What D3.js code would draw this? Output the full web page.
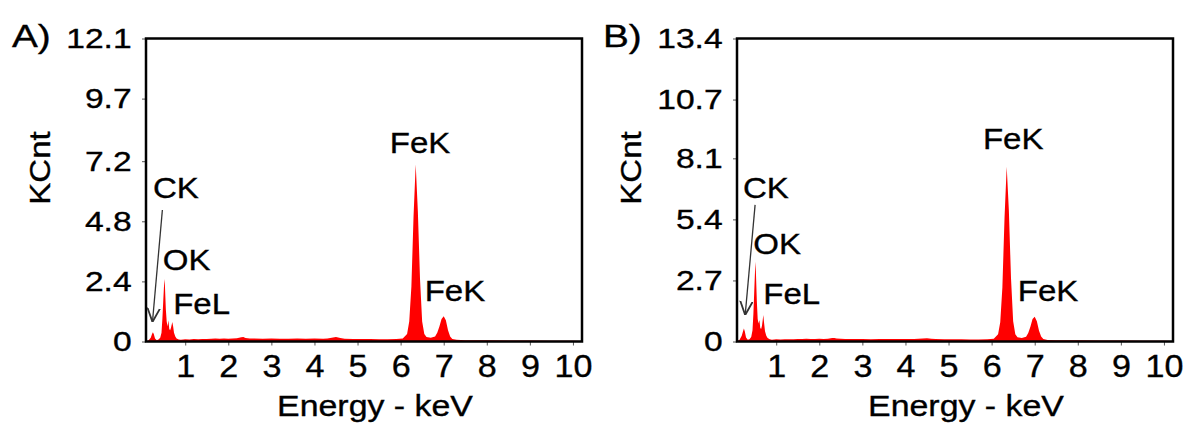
<!DOCTYPE html>
<html>
<head>
<meta charset="utf-8">
<script src="https://cdn.jsdelivr.net/npm/d3@7"></script>
<style>
  body { margin: 0; background: #fff; }
  text { font-family: "Liberation Sans", Arial, sans-serif; fill: #000; stroke: #000; stroke-width: 0.35px; }
</style>
</head>
<body>
<svg id="chart" width="1184" height="426"></svg>
<script>
// spectrum, energy in keV, counts in KCnt
const energy = [0.09, 0.15, 0.20, 0.23, 0.25, 0.27, 0.30, 0.34, 0.38, 0.42, 0.45, 0.47, 0.49, 0.51, 0.52, 0.53,
  0.55, 0.57, 0.59, 0.61, 0.63, 0.65, 0.67, 0.69, 0.70, 0.72, 0.74, 0.77, 0.80, 0.85, 0.90, 1.00, 1.10, 1.20,
  1.30, 1.40, 1.50, 1.60, 1.70, 1.80, 1.90, 2.00, 2.10, 2.20, 2.30, 2.35, 2.40, 2.50, 2.60, 2.80, 3.00, 3.20,
  3.40, 3.60, 3.80, 4.00, 4.20, 4.30, 4.40, 4.50, 4.60, 4.70, 4.90, 5.10, 5.30, 5.50, 5.70, 5.90, 6.05, 6.15,
  6.20, 6.25, 6.30, 6.35, 6.40, 6.45, 6.50, 6.55, 6.60, 6.70, 6.80, 6.85, 6.90, 6.95, 7.00, 7.05, 7.10, 7.15,
  7.20, 7.30, 7.50, 8.00, 8.50, 9.00, 9.50, 10.00, 10.21];
const countsA = [0, 0.05, 0.15, 0.30, 0.37, 0.30, 0.12, 0.05, 0.08, 0.15, 0.35, 0.90, 1.60, 2.30, 2.50, 2.20,
  1.30, 0.80, 0.60, 0.85, 0.50, 0.45, 0.55, 0.70, 0.78, 0.60, 0.35, 0.20, 0.12, 0.08, 0.07, 0.09, 0.08, 0.10,
  0.09, 0.10, 0.10, 0.11, 0.12, 0.11, 0.12, 0.11, 0.12, 0.13, 0.17, 0.18, 0.14, 0.12, 0.12, 0.11, 0.12, 0.11,
  0.11, 0.12, 0.11, 0.12, 0.11, 0.12, 0.15, 0.18, 0.14, 0.11, 0.10, 0.10, 0.10, 0.09, 0.09, 0.10, 0.12, 0.30,
  0.80, 2.20, 5.00, 7.07, 5.20, 2.50, 0.80, 0.30, 0.18, 0.15, 0.20, 0.35, 0.60, 0.90, 1.01, 0.85, 0.45, 0.20,
  0.10, 0.07, 0.05, 0.05, 0.04, 0.04, 0.03, 0.03, 0.02];
const countsB = [0, 0.08, 0.25, 0.45, 0.58, 0.45, 0.18, 0.08, 0.10, 0.20, 0.50, 1.20, 2.20, 3.20, 3.53, 3.00,
  1.80, 1.00, 0.80, 0.95, 0.60, 0.55, 0.70, 1.00, 1.17, 0.80, 0.45, 0.25, 0.15, 0.10, 0.08, 0.10, 0.09, 0.10,
  0.10, 0.10, 0.11, 0.11, 0.12, 0.11, 0.11, 0.12, 0.11, 0.12, 0.15, 0.16, 0.13, 0.12, 0.11, 0.11, 0.11, 0.10,
  0.11, 0.11, 0.11, 0.11, 0.11, 0.12, 0.13, 0.14, 0.12, 0.11, 0.10, 0.10, 0.10, 0.09, 0.09, 0.10, 0.12, 0.32,
  0.85, 2.40, 5.50, 7.73, 5.80, 2.80, 0.90, 0.32, 0.19, 0.16, 0.21, 0.38, 0.65, 1.00, 1.10, 0.90, 0.48, 0.22,
  0.11, 0.07, 0.05, 0.05, 0.04, 0.04, 0.03, 0.03, 0.02];

const xTicks = [1, 2, 3, 4, 5, 6, 7, 8, 9, 10];
const yTicksA = [0, 2.4, 4.8, 7.2, 9.7, 12.1];
const yTicksB = [0, 2.7, 5.4, 8.1, 10.7, 13.4];

// peak labels, placed in data units (keV, KCnt)
const peakNames = ['CK', 'OK', 'FeL', 'FeK', 'FeK'];
const peakAnchor = ['start', 'start', 'start', 'middle', 'middle'];
const labelKevA = [0.25, 0.48, 0.72, 6.45, 7.26];
const labelCntA = [5.73, 2.86, 1.10, 7.53, 1.62];
const labelKevB = [0.23, 0.47, 0.70, 6.50, 7.31];
const labelCntB = [6.35, 3.87, 1.66, 8.51, 1.79];
// CK arrow: [from, to]
const arrowKevA = [0.47, 0.24], arrowCntA = [5.25, 0.78];
const arrowKevB = [0.51, 0.28], arrowCntB = [6.04, 1.17];

const svg = d3.select('#chart');
svg.append('rect').attr('width', 1184).attr('height', 426).attr('fill', '#fff');

svg.append('defs').append('marker')
    .attr('id', 'head')
    .attr('viewBox', '0 0 10 10')
    .attr('refX', 10).attr('refY', 5)
    .attr('markerUnits', 'userSpaceOnUse')
    .attr('markerWidth', 14).attr('markerHeight', 14)
    .attr('orient', 'auto')
  .append('path')
    .attr('d', 'M0,0.5 L10,5 L0,9.5')
    .attr('fill', 'none')
    .attr('stroke', '#333')
    .attr('stroke-width', 1.3);

const plotW = 436, plotH = 303, plotTop = 38.5;
const sx = 1.1; // the source lettering is a bit wider than Arial

function drawPanel(left, letter, counts, yTicks, labKev, labCnt, arKev, arCnt) {
  const g = svg.append('g').attr('transform', `translate(${left},${plotTop})`);

  const x = d3.scaleLinear().domain([0.09, 10.21]).range([0, plotW]);
  const y = d3.scaleLinear().domain([0, yTicks[yTicks.length - 1]]).range([plotH, 0]);

  const area = d3.area()
    .x((d, i) => x(energy[i]))
    .y0(plotH)
    .y1(d => y(d));

  g.append('path')
    .datum(counts)
    .attr('d', area)
    .attr('fill', '#ff0000');

  // axes
  const xAxis = g.append('g')
    .attr('transform', `translate(0,${plotH})`)
    .call(d3.axisBottom(x).tickValues(xTicks).tickSize(4).tickSizeOuter(0).tickPadding(9).tickFormat(d3.format('d')));
  xAxis.selectAll('.tick text')
    .style('font-size', '31px')
    .attr('transform', `scale(${sx},1)`);

  const yAxis = g.append('g')
    .call(d3.axisLeft(y).tickValues(yTicks).tickSize(4).tickSizeOuter(0).tickPadding(8).tickFormat(d => d));
  yAxis.selectAll('.tick text')
    .style('font-size', '28px')
    .attr('transform', 'scale(1.2,1)');

  [xAxis, yAxis].forEach(a => {
    a.select('.domain').remove();
    a.selectAll('.tick line').attr('stroke', '#555').attr('stroke-width', 1);
  });

  g.append('rect')
    .attr('width', plotW)
    .attr('height', plotH)
    .attr('fill', 'none')
    .attr('stroke', '#000')
    .attr('stroke-width', 2.5);

  // annotations
  g.append('line')
    .attr('x1', x(arKev[0])).attr('y1', y(arCnt[0]))
    .attr('x2', x(arKev[1])).attr('y2', y(arCnt[1]))
    .attr('stroke', '#333')
    .attr('stroke-width', 1.3)
    .attr('marker-end', 'url(#head)');

  g.selectAll('text.peak')
    .data(peakNames)
    .enter()
    .append('text')
      .attr('class', 'peak')
      .attr('transform', (d, i) => `translate(${x(labKev[i])},${y(labCnt[i])}) scale(${sx},1)`)
      .attr('text-anchor', (d, i) => peakAnchor[i])
      .style('font-size', '30px')
      .text(d => d);

  // titles
  svg.append('text')
    .attr('transform', `translate(${left + 229},416) scale(1.13,1)`)
    .attr('text-anchor', 'middle')
    .style('font-size', '30px')
    .text('Energy - keV');

  svg.append('text')
    .attr('transform', `translate(${left - 96},168) rotate(-90) scale(${sx},1)`)
    .attr('text-anchor', 'middle')
    .style('font-size', '30px')
    .text('KCnt');

  svg.append('text')
    .attr('transform', `translate(${left - 134},47) scale(1.25,1)`)
    .style('font-size', '31px')
    .text(letter);
}

drawPanel(146, 'A)', countsA, yTicksA, labelKevA, labelCntA, arrowKevA, arrowCntA);
drawPanel(737, 'B)', countsB, yTicksB, labelKevB, labelCntB, arrowKevB, arrowCntB);
</script>
</body>
</html>
